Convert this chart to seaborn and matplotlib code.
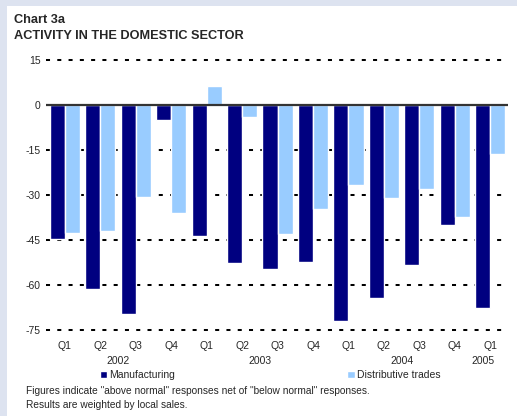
import numpy as np
import pandas as pd
import matplotlib
matplotlib.use("Agg")
import matplotlib.pyplot as plt
from matplotlib.patches import Rectangle
import seaborn as sns

quarters = ["Q1", "Q2", "Q3", "Q4", "Q1", "Q2", "Q3", "Q4",
            "Q1", "Q2", "Q3", "Q4", "Q1"]
years = ["2002", "2003", "2004", "2005"]
year_pos = [1.5, 5.5, 9.5, 11.8]
manufacturing = [-44.6, -61.3, -69.7, -4.9, -43.7, -52.6, -54.6,
                 -52.2, -71.9, -64.2, -53.2, -39.9, -67.6]
distributive = [-42.7, -41.9, -30.7, -35.9, 6.3, -3.9, -43.0,
                -34.6, -26.6, -30.9, -27.9, -37.2, -16.4]
yticks = [15, 0, -15, -30, -45, -60, -75]

period = [f"p{i}" for i in range(len(quarters))]
df = pd.DataFrame({
    "period": period * 2,
    "value": manufacturing + distributive,
    "series": ["Manufacturing"] * len(period) + ["Distributive trades"] * len(period),
})

sns.set_style("white")
plt.rcParams["font.family"] = ["Liberation Sans", "DejaVu Sans"]

fig = plt.figure(figsize=(5.17, 4.16), dpi=100)
fig.patch.set_facecolor("#dde3f0")
fig.patches.append(Rectangle((7 / 517, 0), 1, (416 - 6) / 416,
                             transform=fig.transFigure, facecolor="white",
                             edgecolor="none", zorder=-10))

W, H = 517, 416
left, right, top, bottom = 46, 508, 57, 333
ax = fig.add_axes([left / W, 1 - bottom / H, (right - left) / W, (bottom - top) / H])
ax.set_facecolor("none")

sns.barplot(data=df, x="period", y="value", hue="series",
            palette=["#000080", "#99ccff"], width=0.85, gap=0,
            saturation=1, ax=ax, zorder=3)

ax.set_ylim(-76, 16)
ax.set_xlim(-0.53, len(quarters) - 0.5)
ax.set_yticks(yticks)
ax.set_yticklabels([str(t) for t in yticks], fontsize=7.5)
ax.set_xticks(range(len(quarters)))
ax.set_xticklabels(quarters, fontsize=7.5)
ax.tick_params(axis="both", length=0)
ax.tick_params(axis="y", pad=4)
ax.tick_params(axis="x", pad=5.5)
ax.set_xlabel("")
ax.set_ylabel("")
for s in ax.spines.values():
    s.set_visible(False)

for t in yticks:
    if t != 0:
        ax.axhline(t, color="black", lw=1.45, linestyle=(0, (2, 3.6)), zorder=1)
ax.axhline(0, color="#333333", lw=1.6, zorder=4)

for y, pos in zip(years, year_pos):
    ax.text(pos, -0.085, y, transform=ax.get_xaxis_transform(),
            ha="center", va="top", fontsize=7.5)

handles, labels = ax.get_legend_handles_labels()
ax.get_legend().remove()
fig.legend(handles, labels, loc="upper left", bbox_to_anchor=(96 / W, 1 - 366 / H),
           ncol=2, frameon=False, fontsize=7.5, handlelength=0.7, handleheight=0.7,
           handletextpad=0.2, columnspacing=16.5, borderaxespad=0)

fig.text(14 / W, 1 - 14 / H, "Chart 3a", fontsize=9.2, fontweight="bold",
         va="top", ha="left")
fig.text(14 / W, 1 - 30 / H, "ACTIVITY IN THE DOMESTIC SECTOR", fontsize=9.2,
         fontweight="bold", va="top", ha="left")
fig.text(26 / W, 1 - 386 / H,
         'Figures indicate "above normal" responses net of "below normal" responses.',
         fontsize=7.25, va="top", ha="left")
fig.text(26 / W, 1 - 400 / H, "Results are weighted by local sales.",
         fontsize=7.25, va="top", ha="left")

fig.savefig("out.png", dpi=100, facecolor=fig.get_facecolor())
